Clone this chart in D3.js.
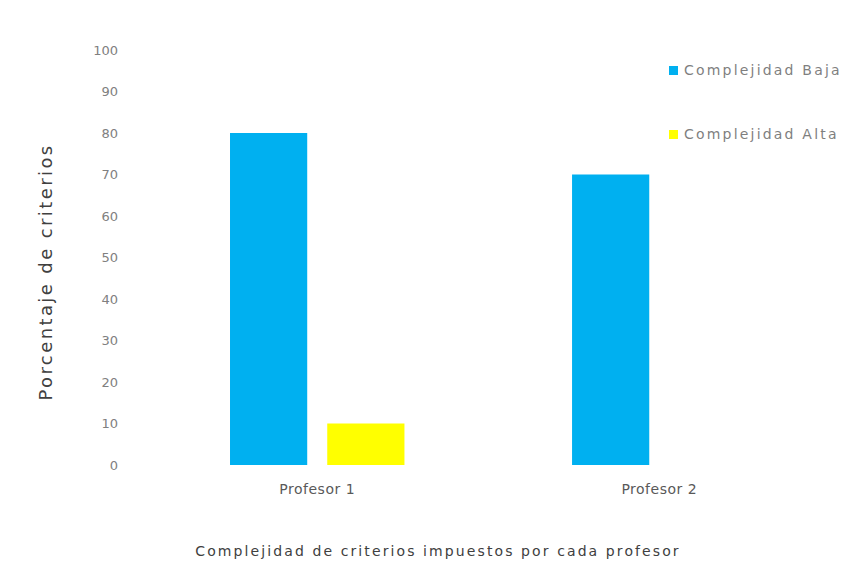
<!DOCTYPE html>
<html>
<head>
<meta charset="utf-8">
<script src="https://cdn.jsdelivr.net/npm/d3@7"></script>
<style>
  html, body { margin: 0; padding: 0; background: #fff; }
  text { font-family: "DejaVu Sans", "Open Sans", sans-serif; }
</style>
</head>
<body>
<svg id="chart" width="850" height="581"></svg>
<script>
const categories = ["Profesor 1", "Profesor 2"];
const seriesNames = ["Complejidad Baja", "Complejidad Alta"];
const bajaValues = [80, 70];
const altaValues = [10, 0];
const yTicks = [0, 10, 20, 30, 40, 50, 60, 70, 80, 90, 100];
const colors = ["#00B0F0", "#FFFF00"];
const yTitle = "Porcentaje de criterios";
const xTitle = "Complejidad de criterios impuestos por cada profesor";

const data = categories.map((c, i) => ({ cat: c, values: [bajaValues[i], altaValues[i]] }));

const svg = d3.select("#chart");
svg.append("rect").attr("width", 850).attr("height", 581).attr("fill", "#fff");

const y = d3.scaleLinear().domain([0, 100]).range([465, 50]);
const x0 = d3.scaleBand().domain(categories).range([144.5, 832]).paddingInner(0.49).paddingOuter(0.25);
const x1 = d3.scaleBand().domain(seriesNames).range([0, x0.bandwidth()]).paddingInner(0.206);
const color = d3.scaleOrdinal().domain(seriesNames).range(colors);

// y axis
const yAxis = d3.axisLeft(y).tickValues(yTicks).tickSize(0).tickPadding(0);
const gy = svg.append("g").attr("transform", "translate(118,0)").call(yAxis);
gy.select(".domain").remove();
gy.selectAll("text").attr("fill", "#808080").style("font-size", "13px")
  .style("font-family", "'DejaVu Sans', sans-serif");

// bars
const groups = svg.append("g").selectAll("g").data(data).join("g")
  .attr("transform", d => `translate(${x0(d.cat)},0)`);
groups.selectAll("rect")
  .data(d => d.values.map((v, i) => ({ key: seriesNames[i], v })))
  .join("rect")
  .attr("x", d => x1(d.key))
  .attr("width", x1.bandwidth())
  .attr("y", d => y(d.v))
  .attr("height", d => y(0) - y(d.v))
  .attr("fill", d => color(d.key));

// x axis labels
const xAxis = d3.axisBottom(x0).tickSize(0).tickPadding(0);
const gx = svg.append("g").attr("transform", "translate(0,484)").call(xAxis);
gx.select(".domain").remove();
gx.selectAll("text").attr("fill", "#595959").style("font-size", "14px")
  .style("letter-spacing", "0.5px").style("font-family", "'DejaVu Sans', sans-serif");

// axis titles
svg.append("text")
  .attr("transform", "translate(52,272) rotate(-90)")
  .attr("text-anchor", "middle")
  .attr("fill", "#404040")
  .style("font-size", "18px")
  .style("letter-spacing", "2.4px")
  .text(yTitle);

svg.append("text")
  .attr("x", 438).attr("y", 556)
  .attr("text-anchor", "middle")
  .attr("fill", "#404040")
  .style("font-size", "14px")
  .style("letter-spacing", "2.1px")
  .text(xTitle);

// legend
const legend = svg.append("g").selectAll("g").data(seriesNames).join("g")
  .attr("transform", (d, i) => `translate(669,${66 + i * 64})`);
legend.append("rect").attr("width", 9).attr("height", 9).attr("fill", d => color(d));
legend.append("text").attr("x", 15).attr("y", 4.5).attr("dy", "0.35em")
  .attr("fill", "#7f7f7f").style("font-size", "14px").style("letter-spacing", "2.2px").text(d => d);
</script>
</body>
</html>
